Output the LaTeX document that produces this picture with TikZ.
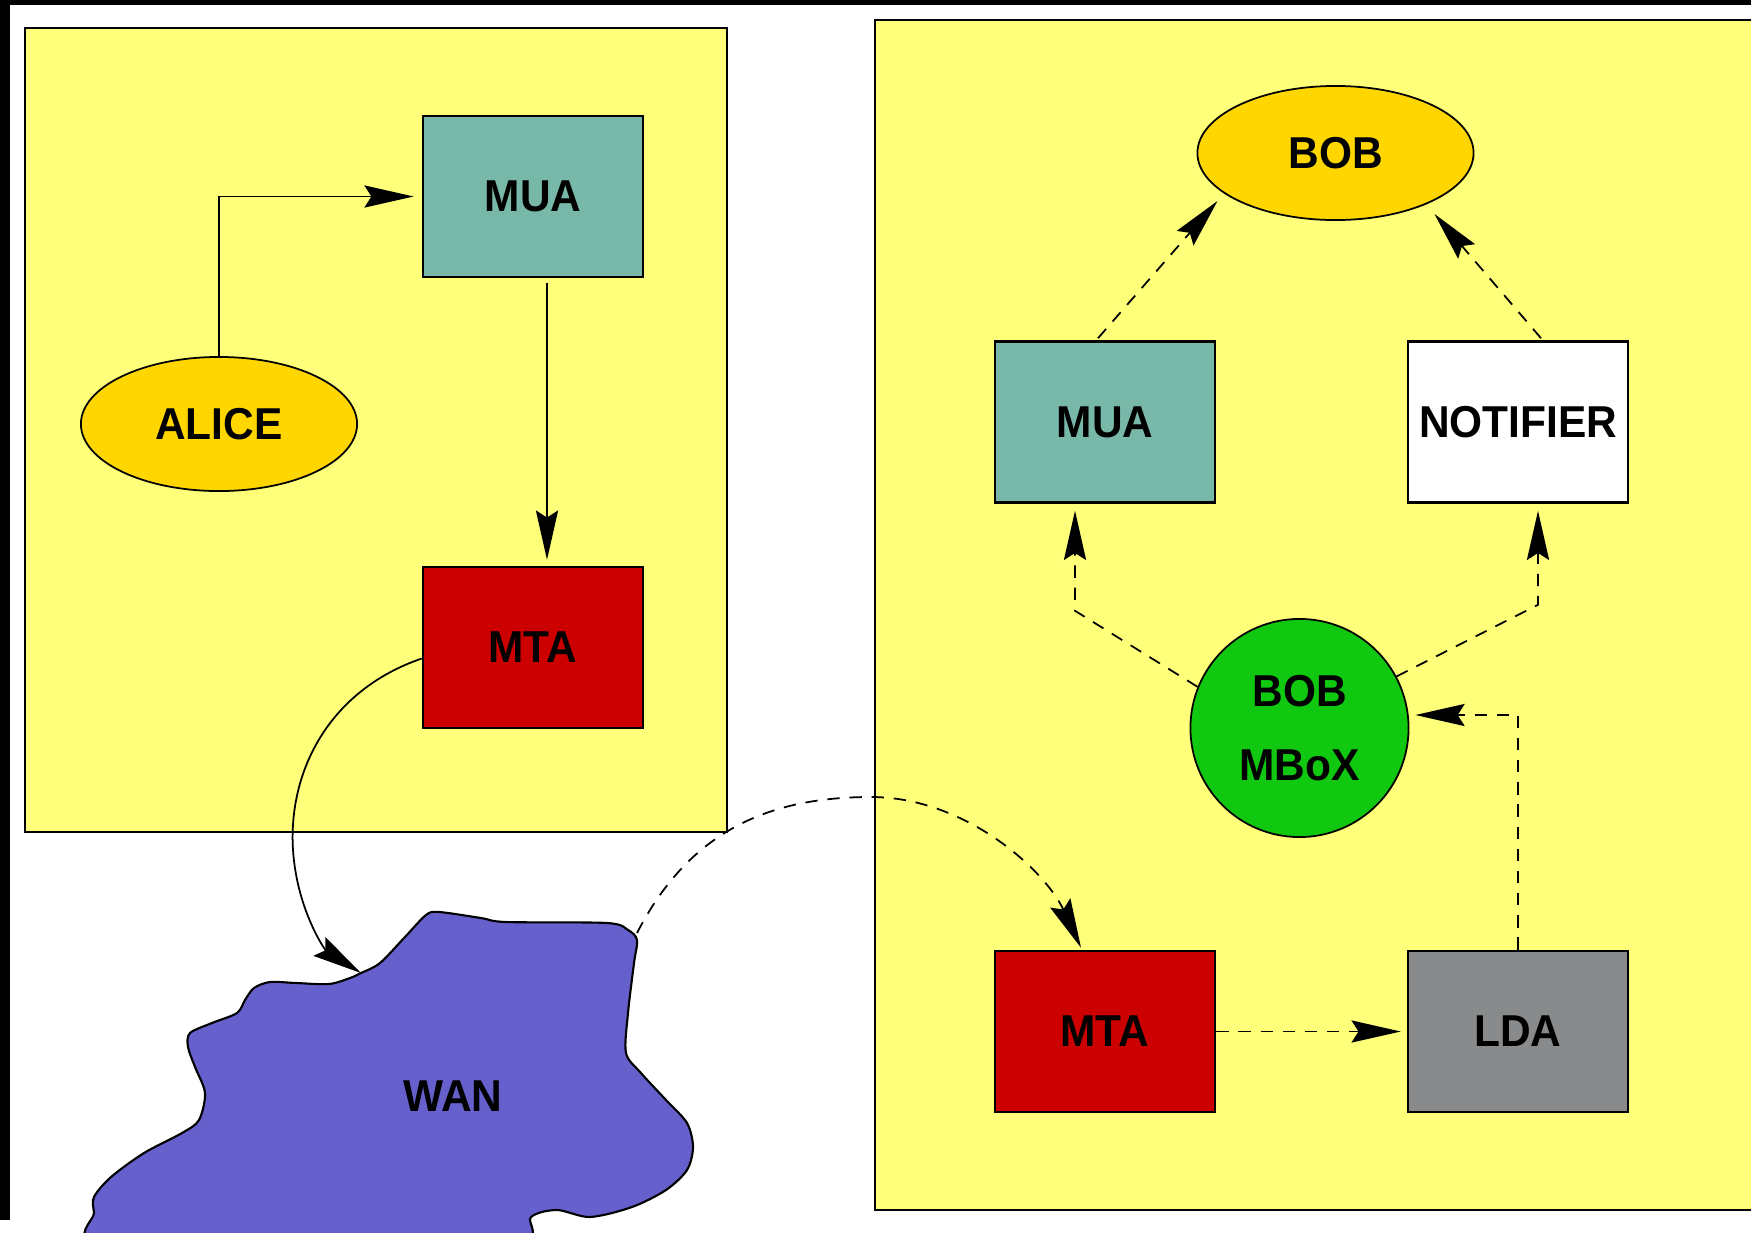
\documentclass[tikz,border=0pt]{standalone}
\usepackage{fontspec}
\setmainfont{Liberation Sans}[FakeStretch=0.95]
\usetikzlibrary{shapes.geometric,arrows.meta,calc}
\definecolor{boxyellow}{RGB}{255,255,122}
\definecolor{muateal}{RGB}{120,184,168}
\definecolor{mtared}{RGB}{204,0,0}
\definecolor{goldfill}{RGB}{255,214,0}
\definecolor{mboxgreen}{RGB}{16,200,16}
\definecolor{ldagray}{RGB}{136,138,140}
\definecolor{wanblue}{RGB}{102,96,204}
\begin{document}
\begin{tikzpicture}[x=0.01cm,y=-0.01cm,
  lbl/.style={font=\fontsize{12.7}{15}\selectfont\bfseries},
  comp/.style={rectangle,draw=black,line width=0.7pt,minimum width=2.2cm,minimum height=1.61cm,inner sep=0pt,lbl},
  person/.style={ellipse,draw=black,line width=0.5pt,fill=goldfill,minimum width=2.76cm,minimum height=1.34cm,inner sep=0pt,lbl},
  arr/.style={line width=0.5pt,-{Stealth[length=14pt,width=6.3pt,inset=2pt]}},
  darr/.style={arr,dash pattern=on 3.5pt off 2.8pt},
  container/.style={fill=boxyellow}
]
% canvas
\useasboundingbox (0,0) rectangle (1751,1233);
\fill[white] (0,0) rectangle (1751,1233);
\fill[black] (0,0) rectangle (1751,5);
\fill[black] (0,0) rectangle (10,1220);

% containers
\fill[container] (25,28) rectangle (727,832);
\draw[line width=0.7pt] (25,28) rectangle (727,832);
\fill[container] (875,20) rectangle (1751,1210);
\draw[line width=0.7pt] (1751,20) -| (875,1210) -- (1751,1210);

% WAN cloud
\draw[line width=0.6pt,fill=wanblue] plot[smooth cycle,tension=0.5] coordinates {
 (361,973) (380,963) (405,937) (426,915) (439,912) (481,918) (506,922) (607,923)
 (628,930) (637,940) (634,963) (628,1013) (626,1053) (641,1073) (666,1100)
 (687,1123) (693,1147) (687,1170) (666,1190) (632,1207) (590,1217) (557,1210)
 (531,1217) (515,1245) (300,1260) (98,1245) (94,1213) (94,1197) (111,1177)
 (144,1153) (182,1133) (199,1120) (205,1093) (195,1067) (188,1047) (190,1033)
 (212,1023) (237,1013) (245,1000) (254,988) (270,982) (296,983) (329,984) (350,978)};
\coordinate (wanNotch) at (361,973);
\coordinate (wanCorner) at (637,933);
\node[lbl] (wan) at (453,1096) {WAN};

% left side nodes
\node[comp,fill=muateal] (muaL) at (533,196.5) {MUA};
\node[comp,fill=mtared] (mtaL) at (533,647.5) {MTA};
\node[person] (alice) at (219,424) {ALICE};

% right side nodes
\node[person] (bob) at (1335.5,153) {BOB};
\node[comp,fill=muateal] (muaR) at (1105,422) {MUA};
\node[comp,fill=white] (notif) at (1518,422) {NOTIFIER};
\node[circle,draw=black,line width=0.5pt,fill=mboxgreen,minimum size=2.18cm,inner sep=0pt,lbl,align=center] (mbox) at (1299.5,728) {BOB\\[6pt]MBoX};
\node[comp,fill=mtared] (mtaR) at (1105,1031.5) {MTA};
\node[comp,fill=ldagray] (lda) at (1518,1031.5) {LDA};

% left connectors
\draw[arr,shorten >=2.3pt] (alice.north) |- (muaL.west);
\draw[arr] ($(muaL.south)+(14,5)$) -- ($(mtaL.north)+(14,-6)$);
\draw[arr] ($(mtaL.west)+(0,11)$) .. controls (330,690) and (288,770) .. (293,850)
  .. controls (297,910) and (325,950) .. (wanNotch);

% WAN to right MTA
\draw[darr] (wanCorner) .. controls (690,830) and (770,797) .. (871,797)
  .. controls (965,797) and (1045,870) .. ($(mtaR.north)+(-24,-2)$);

% right connectors
\draw[darr] ($(muaR.north)+(-7,-2)$) -- ($(bob)+(-118,48)$);
\draw[darr] ($(notif.north)+(23,-2)$) -- ($(bob)+(99,61)$);
\draw[darr] (mbox.158) -- ($(muaR.south)+(-30,107)$) -- ($(muaR.south)+(-30,7)$);
\draw[darr] (mbox.28) -- ($(notif.south)+(20,101)$) -- ($(notif.south)+(20,7)$);
\draw[darr] (lda.north) |- ($(mbox.east)+(6,-13)$);
\draw[darr,shorten >=1.7pt] (mtaR.east) -- (lda.west);
\end{tikzpicture}
\end{document}
